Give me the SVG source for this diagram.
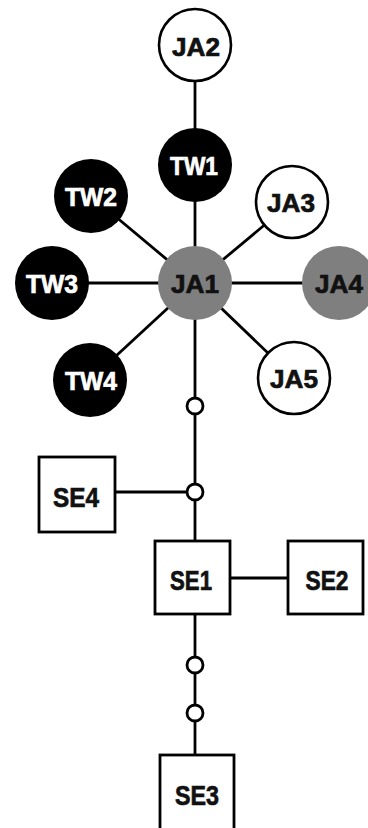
<svg xmlns="http://www.w3.org/2000/svg" width="368" height="828" viewBox="0 0 368 828">
<style>
.ln{stroke:#000;stroke-width:2.8;fill:none}
.blk{fill:#000}
.gry{fill:#7f7f7f}
.wht{fill:#fff;stroke:#000;stroke-width:2.6}
.box{fill:#fff;stroke:#000;stroke-width:2.8}
.dot{fill:#fff;stroke:#000;stroke-width:2.8}
text{font-family:"Liberation Sans",Arial,sans-serif;font-weight:bold;text-anchor:middle}
.ct{font-size:25px}
.bt{font-size:28px}
.w{fill:#fff;stroke:#fff;stroke-width:0.7}
.k{fill:#111;stroke:#111;stroke-width:0.7}
</style>
<rect width="368" height="828" fill="#fff"/>
<g id="connectors">
<line class="ln" x1="195" y1="45" x2="195" y2="283"/>
<line class="ln" x1="91" y1="196" x2="195" y2="283"/>
<line class="ln" x1="292" y1="202" x2="195" y2="283"/>
<line class="ln" x1="52" y1="283" x2="339" y2="283"/>
<line class="ln" x1="90" y1="380" x2="195" y2="283"/>
<line class="ln" x1="294" y1="378" x2="195" y2="283"/>
<line class="ln" x1="195" y1="283" x2="195" y2="541"/>
<line class="ln" x1="115" y1="492" x2="195" y2="492"/>
<line class="ln" x1="230" y1="578" x2="288" y2="578"/>
<line class="ln" x1="195" y1="614" x2="195" y2="755"/>
<circle class="dot" cx="195" cy="406" r="8"/>
<circle class="dot" cx="195" cy="492" r="8"/>
<circle class="dot" cx="195" cy="665" r="8"/>
<circle class="dot" cx="195" cy="713" r="8"/>
</g>
<g id="JA2"><circle class="wht" cx="195" cy="45" r="36"/><text class="ct k" x="196" y="56" textLength="48" lengthAdjust="spacingAndGlyphs">JA2</text></g>
<g id="TW1"><circle class="blk" cx="195" cy="165" r="37"/><text class="ct w" x="194" y="175" textLength="48" lengthAdjust="spacingAndGlyphs">TW1</text></g>
<g id="TW2"><circle class="blk" cx="91" cy="196" r="37"/><text class="ct w" x="91" y="206" textLength="52" lengthAdjust="spacingAndGlyphs">TW2</text></g>
<g id="JA3"><circle class="wht" cx="292" cy="202" r="36"/><text class="ct k" x="291" y="212" textLength="48" lengthAdjust="spacingAndGlyphs">JA3</text></g>
<g id="JA1"><circle class="gry" cx="195" cy="283" r="37"/><text class="ct k" x="195" y="293" textLength="48" lengthAdjust="spacingAndGlyphs">JA1</text></g>
<g id="JA4"><circle class="gry" cx="339" cy="283" r="37"/><text class="ct k" x="339" y="293" textLength="48" lengthAdjust="spacingAndGlyphs">JA4</text></g>
<g id="TW3"><circle class="blk" cx="52" cy="283" r="37"/><text class="ct w" x="52" y="293" textLength="52" lengthAdjust="spacingAndGlyphs">TW3</text></g>
<g id="TW4"><circle class="blk" cx="90" cy="380" r="37"/><text class="ct w" x="91" y="390" textLength="52" lengthAdjust="spacingAndGlyphs">TW4</text></g>
<g id="JA5"><circle class="wht" cx="294" cy="378" r="36"/><text class="ct k" x="294" y="388" textLength="48" lengthAdjust="spacingAndGlyphs">JA5</text></g>
<g id="SE4"><rect class="box" x="39" y="457" width="76" height="75"/><text class="bt k" x="76" y="507" textLength="46" lengthAdjust="spacingAndGlyphs">SE4</text></g>
<g id="SE1"><rect class="box" x="155" y="541" width="75" height="73"/><text class="bt k" x="191" y="590" textLength="42" lengthAdjust="spacingAndGlyphs">SE1</text></g>
<g id="SE2"><rect class="box" x="288" y="541" width="75" height="73"/><text class="bt k" x="327" y="590" textLength="43" lengthAdjust="spacingAndGlyphs">SE2</text></g>
<g id="SE3"><rect class="box" x="160" y="755" width="74" height="80"/><text class="bt k" x="197" y="805" textLength="44" lengthAdjust="spacingAndGlyphs">SE3</text></g>
</svg>
